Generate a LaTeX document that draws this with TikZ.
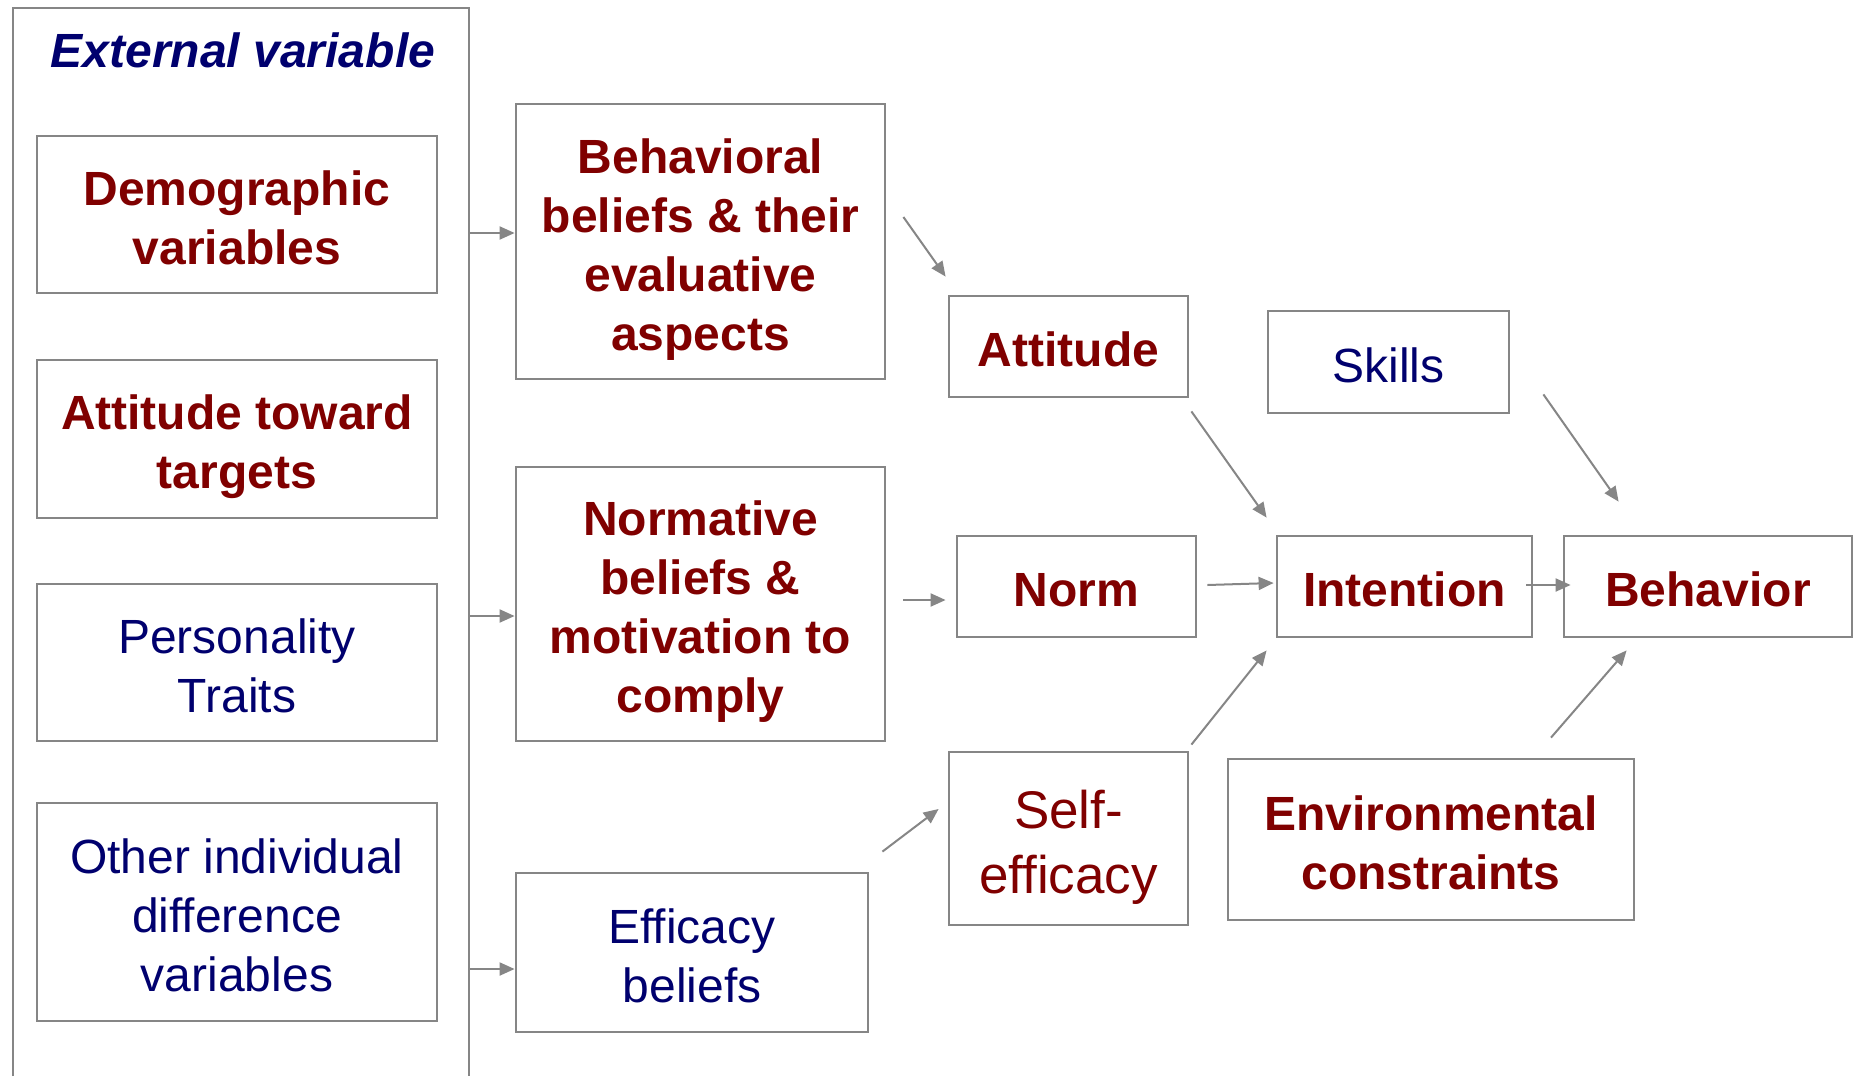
\documentclass[tikz,border=0pt]{standalone}
\usepackage{fontspec}
\setmainfont{Liberation Sans}
\usetikzlibrary{arrows.meta}
\definecolor{boxgray}{RGB}{134,134,134}
\definecolor{darkred}{RGB}{128,0,0}
\definecolor{darkblue}{RGB}{0,0,110}
% struts above the first and below the last line, so the lines sit by the font
\tikzset{nlines/.style={execute at begin node={%
    \rule{0pt}{\dimexpr1.06em+#1\baselineskip-\baselineskip\relax}}}}
\tikzstyle{varbox}=[rectangle,draw=boxgray,line width=1.4pt,fill=white,
                    align=center,inner sep=0pt,nlines=1,
                    execute at end node={\rule[-0.217em]{0pt}{0pt}}]
\tikzstyle{redtext}=[text=darkred,font=\fontsize{24}{29.5}\selectfont\bfseries]
\tikzstyle{bluetext}=[text=darkblue,font=\fontsize{24}{29.5}\selectfont]
\tikzstyle{flow}=[draw=boxgray,line width=1pt,
                  -{Triangle[length=7.5pt,width=6.5pt]}]

\begin{document}
\begin{tikzpicture}[x=0.5pt,y=-0.5pt]
    \useasboundingbox (0,0) rectangle (1857,1076);
    % frame of the external variables, open at the bottom
    \draw[boxgray,line width=1.4pt] (13,1076) -- (13,8) -- (469,8) -- (469,1076);
    \node (title) at (243,50) [text=darkblue,
        font=\fontsize{24}{29.5}\selectfont\bfseries\itshape]{External variable};
    \coordinate (out1) at (469,233);
    \coordinate (out2) at (469,616);
    \coordinate (out3) at (469,969);

    \node (demo) at (237,214.5) [varbox,redtext,nlines=2,minimum width=200pt,
        minimum height=78.5pt]{Demographic\\variables};
    \node (atttgt) at (237,439) [varbox,redtext,nlines=2,minimum width=200pt,
        minimum height=79pt]{Attitude toward\\targets};
    \node (pers) at (237,662.5) [varbox,bluetext,nlines=2,minimum width=200pt,
        minimum height=78.5pt]{Personality\\Traits};
    \node (other) at (237,912) [varbox,bluetext,nlines=3,minimum width=200pt,
        minimum height=109pt]{Other individual\\difference\\variables};

    \node (behbel) at (700.5,241.5) [varbox,redtext,nlines=4,minimum width=184.5pt,
        minimum height=137.5pt]{Behavioral\\beliefs \& their\\evaluative\\aspects};
    \node (normbel) at (700.5,604) [varbox,redtext,nlines=4,minimum width=184.5pt,
        minimum height=137pt]{Normative\\beliefs \&\\motivation to\\comply};
    \node (effbel) at (692,952.5) [varbox,bluetext,nlines=2,minimum width=176pt,
        minimum height=79.5pt]{Efficacy\\beliefs};

    \node (att) at (1068.5,346.5) [varbox,redtext,minimum width=119.5pt,
        minimum height=50.5pt]{Attitude};
    \node (norm) at (1076.5,586.5) [varbox,redtext,minimum width=119.5pt,
        minimum height=50.5pt]{Norm};
    \node (selfeff) at (1068.5,838.5) [varbox,text=darkred,nlines=2,
        font=\fontsize{26.5}{32.5}\selectfont,minimum width=119.5pt,
        minimum height=86.5pt]{Self-\\efficacy};

    \node (skills) at (1388.5,362) [varbox,bluetext,minimum width=120.5pt,
        minimum height=51pt]{Skills};
    \node (intent) at (1404.5,586.5) [varbox,redtext,minimum width=127.5pt,
        minimum height=50.5pt]{Intention};
    \node (behav) at (1708,586.5) [varbox,redtext,minimum width=144pt,
        minimum height=50.5pt]{Behavior};
    \node (env) at (1431,839.5) [varbox,redtext,nlines=2,minimum width=203pt,
        minimum height=80.5pt]{Environmental\\constraints};

    \draw[flow] (out1) -- (out1 -| behbel.west);
    \draw[flow] (out2) -- (out2 -| normbel.west);
    \draw[flow] (out3) -- (out3 -| effbel.west);

    \draw[flow] ([shift={(17,-24.5)}]behbel.east) -- ([shift={(-2,-18)}]att.north west);
    \draw[flow] ([shift={(17,-4)}]normbel.east) -- ([shift={(-10,13.5)}]norm.west);
    \draw[flow] ([shift={(13,-20)}]effbel.north east) -- ([shift={(-9,-29.5)}]selfeff.west);
    \draw[flow] ([shift={(2,13)}]att.south east) -- ([shift={(-9,-17)}]intent.north west);
    \draw[flow] ([shift={(10,-1.5)}]norm.east) -- ([shift={(-2,-3.5)}]intent.west);
    \draw[flow] ([shift={(2,-6)}]selfeff.north east) -- ([shift={(-9,12)}]intent.south west);
    \draw[flow] ([shift={(33,-20)}]skills.south east) -- ([shift={(56,-33)}]behav.north west);
    \draw[flow] ([shift={(-7,-1.5)}]intent.east) -- ([shift={(8,-1.5)}]behav.west);
    \draw[flow] ([shift={(120,-20)}]env.north) -- ([shift={(64,12)}]behav.south west);
\end{tikzpicture}
\end{document}
